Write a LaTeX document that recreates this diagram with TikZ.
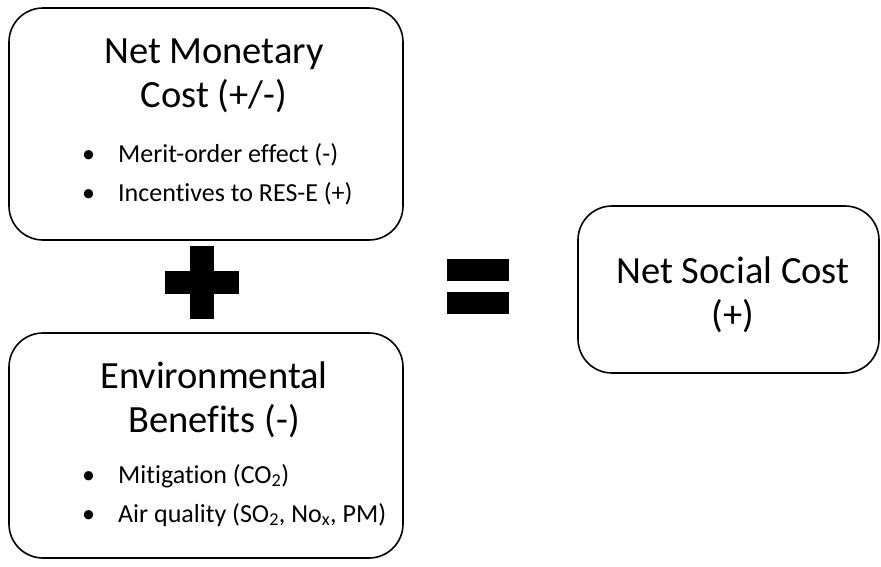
\documentclass[tikz,border=0pt]{standalone}
\usepackage{fontspec}
\setmainfont{Carlito}[Ligatures=NoCommon]
\usetikzlibrary{positioning}

\tikzset{
  costbox/.style={draw=black,line width=1.6pt,rounded corners=34pt,inner sep=0pt,fill=white},
  headtext/.style={align=center,inner sep=0pt,font=\fontsize{38.5}{44}\selectfont},
  itemtext/.style={anchor=base west,inner sep=0pt,font=\fontsize{26}{30}\selectfont},
  signbar/.style={fill=black}
}
\newcommand{\costitem}[1]{\makebox[36pt][l]{\textbullet}#1}

\begin{document}
\begin{tikzpicture}[x=1pt,y=-1pt]
  \useasboundingbox (0,0) rectangle (881,566);

  % the three boxes
  \node[costbox,minimum width=394pt,minimum height=232pt] (monetary) at (206,124) {};
  \node[costbox,minimum width=394pt,minimum height=225pt] (environ) at (206,445.5) {};
  \node[costbox,minimum width=301pt,minimum height=167pt] (social) at (728.5,289.5) {};

  % box texts
  \node[headtext,anchor=north] (monhead) at (214,39) {Net Monetary\\Cost (+/-)};
  \node[itemtext] (merit) at (82,162) {\costitem{Merit-order effect (-)}};
  \node[itemtext] (incent) at (82,201) {\costitem{Incentives to RES-E (+)}};

  \node[headtext,anchor=north] (envhead) at (214,362) {Environmental\\Benefits (-)};
  \node[itemtext] (mitig) at (82,483) {\costitem{Mitigation (CO\textsubscript{2})}};
  \node[itemtext] (airq) at (82,522) {\costitem{Air quality (SO\textsubscript{2}, No\textsubscript{x}, PM)}};

  \node[headtext,anchor=north] (sochead) at (733,257) {Net Social Cost\\(+)};

  % plus and equals signs
  \fill[signbar] (190,246) rectangle (214,319);
  \fill[signbar] (165,271) rectangle (239,294);
  \fill[signbar] (447,259) rectangle (509,281);
  \fill[signbar] (447,292) rectangle (509,314);
\end{tikzpicture}
\end{document}
